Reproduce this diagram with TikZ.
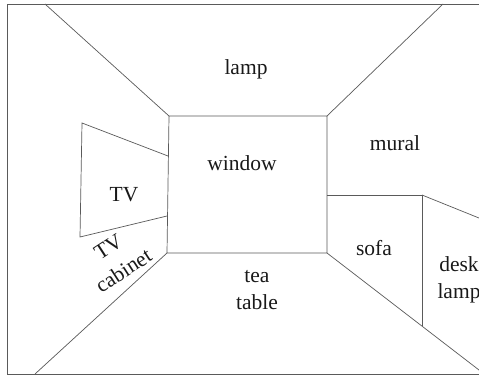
\documentclass[tikz,border=0pt]{standalone}
\usepackage{fontspec}
\setmainfont{Liberation Serif}
\begin{document}
\begin{tikzpicture}[x=1pt,y=-1pt,
  wall/.style={draw={rgb,255:red,90;green,90;blue,90},line width=0.7pt},
  lbl/.style={font=\fontsize{21.5}{27}\selectfont,text={rgb,255:red,25;green,25;blue,25},inner sep=0pt,align=center}]
\useasboundingbox (0,0) rectangle (479,375);
\fill[white] (0,0) rectangle (479,375);
\clip (0,0) rectangle (479,375);
% corners
\coordinate (wtl) at (169,116);
\coordinate (wtr) at (327,116);
\coordinate (wbr) at (327,253);
\coordinate (wbl) at (167,253);
\coordinate (otl) at (45,4);
\coordinate (otr) at (443,4);
\coordinate (obl) at (35,374);
\coordinate (obr) at (479,370);
% frame
\draw[wall] (490,4) -- (7,4) -- (7,374) -- (490,374);
% window
\draw[wall] (wtl) -- (wtr) -- (wbr) -- (wbl) -- cycle;
% diagonals
\draw[wall] (otl) -- (wtl);
\draw[wall] (otr) -- (wtr);
\draw[wall] (obl) -- (wbl);
\draw[wall] (wbr) -- (obr);
% TV
\coordinate (tv1) at (82,123);
\coordinate (tv2) at (168,156);
\coordinate (tv3) at (167,216);
\coordinate (tv4) at (80,237);
\draw[wall] (tv2) -- (tv1) -- (tv4) -- (tv3);
% sofa / desk lamp
\coordinate (s1) at (327,195);
\coordinate (s2) at (422,195);
\coordinate (s3) at (422,326);
\coordinate (s4) at (479,218);
\draw[wall] (s1) -- (s2) -- (s3);
\draw[wall] (s2) -- (s4);
% labels
\node[lbl] (lamp) at (246,69) {lamp};
\node[lbl] (window) at (242,163) {window};
\node[lbl] (mural) at (395,143) {mural};
\node[lbl] (tv) at (124,195) {TV};
\node[lbl,rotate=33] (tvc) at (116,259) {TV\\[1pt]cabinet};
\node[lbl] (tea) at (257,290) {tea\\table};
\node[lbl] (sofa) at (374,248) {sofa};
\node[lbl] (desk) at (459,280) {desk\\lamp};
\end{tikzpicture}
\end{document}
